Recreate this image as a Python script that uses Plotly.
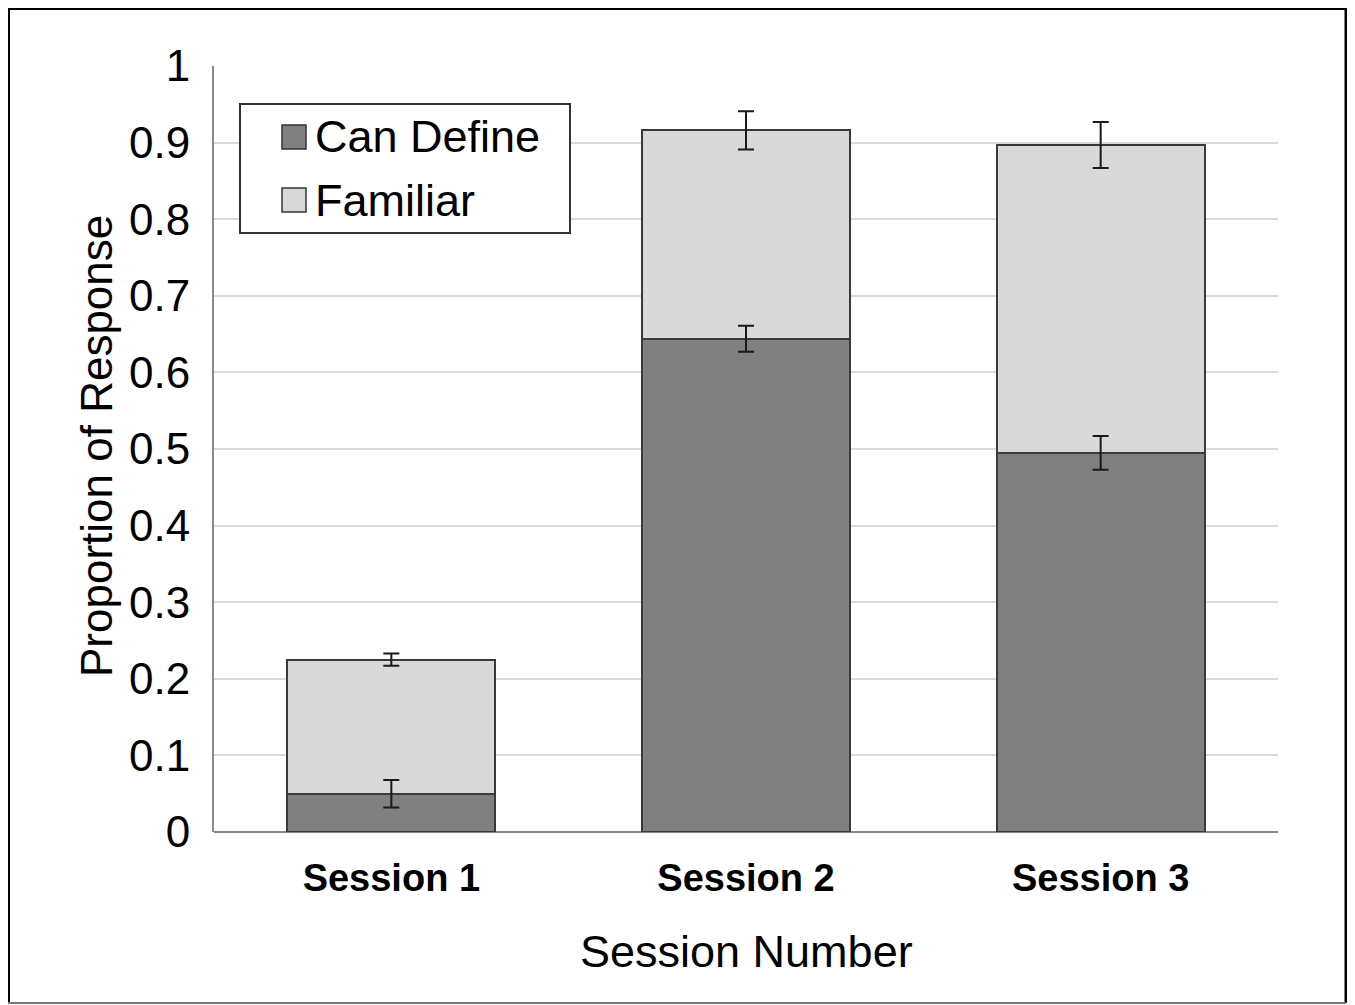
import plotly.graph_objects as go

sessions = ["Session 1", "Session 2", "Session 3"]
series_names = ["Can Define", "Familiar"]
can_define = [0.050, 0.644, 0.495]
can_define_err = [0.018, 0.017, 0.022]
familiar = [0.175, 0.272, 0.402]
familiar_err = [0.008, 0.025, 0.030]
colors = ["#808080", "#d9d9d9"]
y_ticks = [0, 0.1, 0.2, 0.3, 0.4, 0.5, 0.6, 0.7, 0.8, 0.9, 1]
y_tick_text = ["0", "0.1", "0.2", "0.3", "0.4", "0.5", "0.6", "0.7", "0.8", "0.9", "1"]

# page body margin offset (screen coords -> figure coords)
OFF = 8
W, H = 1355 - OFF, 1005 - OFF
L, R, T, B = 214 - OFF, 1278 - OFF, 66 - OFF, 832 - OFF


def px(x):
    return (x - OFF - L) / (R - L)


def py(y):
    return (B - (y - OFF)) / (B - T)


FONT = "Liberation Sans, Arial, sans-serif"

fig = go.Figure()
for name, vals, col in [
    (series_names[0], can_define, colors[0]),
    (series_names[1], familiar, colors[1]),
]:
    fig.add_trace(go.Bar(
        x=sessions, y=vals, name=name, width=0.587,
        marker=dict(color=col, line=dict(color="#3a3a3a", width=2)),
        showlegend=False, hoverinfo="skip",
    ))

# error bars at the end of each stacked segment
tops = [c + f for c, f in zip(can_define, familiar)]
for yv, errs in [(can_define, can_define_err), (tops, familiar_err)]:
    fig.add_trace(go.Scatter(
        x=sessions, y=yv, mode="markers",
        marker=dict(size=1, opacity=0),
        error_y=dict(type="data", array=errs, visible=True,
                     color="#1a1a1a", thickness=2, width=8),
        showlegend=False, hoverinfo="skip",
    ))

shapes = []
# outer frame
shapes.append(dict(type="line", xref="paper", yref="paper",
                   x0=px(OFF), x1=px(OFF), y0=py(OFF), y1=py(1003),
                   line=dict(color="#000000", width=4)))
shapes.append(dict(type="line", xref="paper", yref="paper",
                   x0=px(OFF), x1=px(1346), y0=py(OFF + 0.5), y1=py(OFF + 0.5),
                   line=dict(color="#000000", width=3)))
shapes.append(dict(type="line", xref="paper", yref="paper",
                   x0=px(1346), x1=px(1346), y0=py(OFF), y1=py(1003),
                   line=dict(color="#000000", width=3)))
shapes.append(dict(type="line", xref="paper", yref="paper",
                   x0=px(OFF), x1=px(1346), y0=py(1003), y1=py(1003),
                   line=dict(color="#777777", width=2)))
# legend box
shapes.append(dict(type="rect", xref="paper", yref="paper",
                   x0=px(240), x1=px(570), y0=py(104), y1=py(233),
                   fillcolor="#ffffff", line=dict(color="#333333", width=2)))
leg_y = [137, 200]
annotations = []
for i, name in enumerate(series_names):
    cy = leg_y[i]
    shapes.append(dict(type="rect", xref="paper", yref="paper",
                       x0=px(282), x1=px(306), y0=py(cy - 12), y1=py(cy + 12),
                       fillcolor=colors[i], line=dict(color="#333333", width=1.5)))
    annotations.append(dict(text=name, xref="paper", yref="paper",
                            x=px(313), y=py(cy), xanchor="left", yanchor="middle",
                            showarrow=False, font=dict(family=FONT, size=45, color="#000000")))

annotations.append(dict(text="Proportion of Response", xref="paper", yref="paper",
                        x=px(96), y=py(446), xanchor="center", yanchor="middle",
                        textangle=-90, showarrow=False,
                        font=dict(family=FONT, size=44, color="#000000")))
annotations.append(dict(text="Session Number", xref="paper", yref="paper",
                        x=px(746), y=py(951), xanchor="center", yanchor="middle",
                        showarrow=False,
                        font=dict(family=FONT, size=45, color="#000000")))

fig.update_layout(
    width=W, height=H,
    margin=dict(l=L, r=W - R, t=T, b=H - B, pad=0),
    barmode="stack",
    plot_bgcolor="#ffffff", paper_bgcolor="#ffffff",
    shapes=shapes, annotations=annotations,
    showlegend=False,
)
fig.update_xaxes(
    showline=False, showgrid=False, zeroline=False,
    tickfont=dict(family=FONT, size=38, color="#000000", weight="bold"),
    ticks="", ticklabelstandoff=20,
)
fig.update_yaxes(
    range=[0, 1], tickvals=y_ticks, ticktext=y_tick_text,
    showgrid=True, gridcolor="#dadada", gridwidth=2,
    showline=True, linecolor="#8a8a8a", linewidth=2,
    zeroline=True, zerolinecolor="#8a8a8a", zerolinewidth=2,
    tickfont=dict(family=FONT, size=44, color="#000000"),
    ticks="", ticklabelstandoff=13,
)

fig.write_html("out.html")
